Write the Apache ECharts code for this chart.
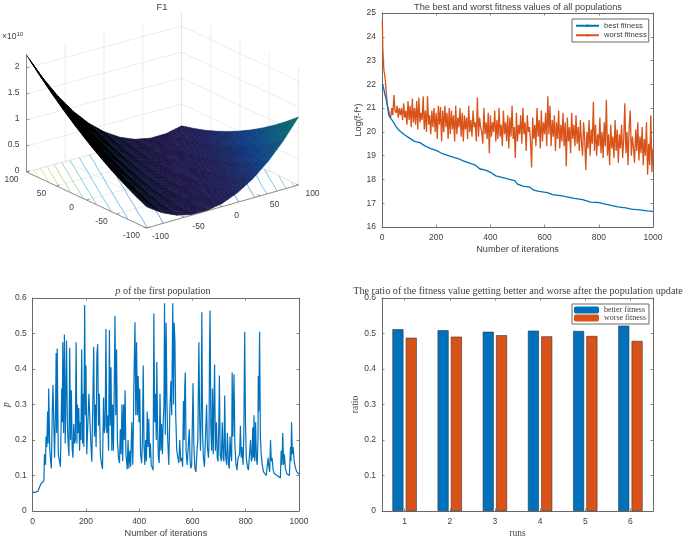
<!DOCTYPE html>
<html>
<head>
<meta charset="utf-8">
<title>F1</title>
<script src="https://cdn.jsdelivr.net/npm/echarts@6/dist/echarts.min.js"></script>
<style>
html, body { margin: 0; padding: 0; background: #fff; }
#main { width: 685px; height: 539px; }
</style>
</head>
<body>
<div id="main"></div>
<script>
// surface F1, z in 1e10, rows are y = -100..100, columns x = -100..100 (step 20)
const surfaceZ = [
  [0.409, 0.213, 0.080, 0.011, 0.005, 0.064, 0.185, 0.370, 0.619, 0.932, 1.308],
  [0.526, 0.299, 0.136, 0.036, 0.000, 0.028, 0.119, 0.273, 0.491, 0.773, 1.118],
  [0.659, 0.401, 0.207, 0.077, 0.010, 0.006, 0.067, 0.191, 0.378, 0.629, 0.944],
  [0.806, 0.517, 0.293, 0.131, 0.034, 0.000, 0.030, 0.123, 0.280, 0.500, 0.784],
  [0.967, 0.648, 0.393, 0.201, 0.073, 0.008, 0.007, 0.070, 0.196, 0.386, 0.639],
  [1.144, 0.794, 0.508, 0.286, 0.127, 0.032, 0.000, 0.032, 0.127, 0.286, 0.509],
  [1.335, 0.955, 0.638, 0.385, 0.196, 0.070, 0.007, 0.009, 0.073, 0.202, 0.394],
  [1.541, 1.130, 0.783, 0.499, 0.279, 0.123, 0.029, 0.000, 0.034, 0.132, 0.293],
  [1.762, 1.321, 0.943, 0.628, 0.377, 0.190, 0.066, 0.006, 0.010, 0.077, 0.207],
  [1.998, 1.526, 1.117, 0.772, 0.490, 0.272, 0.118, 0.027, 0.000, 0.037, 0.137],
  [2.249, 1.746, 1.306, 0.930, 0.618, 0.370, 0.185, 0.063, 0.005, 0.011, 0.080]
]
const contourLevels = [0.2, 0.4, 0.6, 0.8, 1.0, 1.2, 1.4, 1.6, 1.8, 2.0]
const xyTicks = [-100, -50, 0, 50, 100]
const zTicks = [0, 0.5, 1, 1.5, 2]
const zTop = 2.27

const bestIters = [1, 5, 10, 15, 20, 25, 30, 40, 50, 60, 80, 100, 120, 140, 160, 180, 200, 220, 250, 280, 300, 320, 345, 360, 385, 400, 420, 450, 470, 490, 500, 520, 545, 560, 580, 610, 630, 670, 690, 710, 740, 770, 800, 820, 850, 870, 900, 920, 950, 980, 1000]
const bestValues = [22.0, 21.9, 21.6, 21.4, 21.1, 20.7, 20.6, 20.45, 20.25, 20.1, 19.9, 19.75, 19.6, 19.55, 19.4, 19.3, 19.22, 19.1, 18.98, 18.88, 18.78, 18.7, 18.6, 18.45, 18.38, 18.3, 18.15, 18.07, 18.0, 17.95, 17.8, 17.72, 17.68, 17.55, 17.5, 17.45, 17.36, 17.3, 17.25, 17.2, 17.15, 17.05, 17.03, 16.97, 16.9, 16.85, 16.8, 16.75, 16.72, 16.68, 16.66]

const worstHeadIters = [1, 2, 3, 5, 7, 10, 13, 16, 20, 25, 28]
const worstHeadValues = [24.7, 24.3, 23.5, 23.0, 22.6, 22.4, 22.1, 21.6, 21.1, 20.9, 20.7]
// from iteration 32 on, one value every 4 iterations
const worstValues = [
  20.6, 21.0, 20.7, 21.55, 20.9, 20.8, 21.1, 20.6, 21.0, 20.7,
  21.0, 20.5, 21.2, 20.6, 20.9, 20.3, 21.3, 20.5, 21.1, 20.2,
  21.4, 20.4, 21.0, 20.3, 21.3, 20.1, 21.45, 20.4, 20.8, 20.5,
  21.5, 20.1, 20.9, 20.0, 21.5, 20.3, 20.7, 19.9, 20.9, 20.2,
  21.0, 20.0, 20.8, 19.7, 21.1, 20.3, 21.05, 19.6, 20.9, 20.0,
  21.1, 20.2, 20.8, 19.7, 21.0, 19.9, 20.9, 20.1, 20.7, 19.6,
  21.1, 19.9, 20.6, 20.2, 21.0, 19.8, 20.8, 19.6, 20.7, 20.1,
  20.6, 19.7, 21.1, 20.0, 20.5, 19.8, 20.9, 20.2, 20.4, 19.6,
  21.45, 19.8, 20.6, 20.2, 20.0, 19.5, 21.0, 19.9, 20.4, 19.7,
  20.8, 19.1, 20.7, 19.8, 20.4, 20.0, 20.9, 19.6, 20.5, 19.7,
  21.0, 19.8, 20.3, 19.4, 20.9, 19.9, 20.4, 19.6, 20.7, 19.3,
  20.6, 19.8, 21.1, 19.7, 20.2, 18.9, 20.8, 19.6, 20.3, 19.9,
  20.7, 19.5, 21.0, 19.9, 20.4, 19.2, 20.7, 20.0, 20.2, 19.6,
  18.5, 20.6, 19.7, 20.3, 19.4, 21.0, 19.8, 20.5, 19.3, 20.9,
  19.6, 20.4, 19.9, 20.8, 19.4, 21.5, 19.9, 21.1, 19.4, 20.5,
  19.8, 20.7, 19.2, 20.4, 19.7, 20.9, 19.3, 20.3, 19.6, 20.8,
  19.4, 20.4, 18.55, 20.6, 19.6, 20.2, 19.1, 20.8, 19.7, 20.3,
  19.4, 20.7, 19.5, 20.2, 19.2, 20.5, 19.6, 19.0, 20.4, 19.7,
  18.4, 20.0, 19.3, 20.5, 19.0, 20.1, 19.5, 21.27, 19.2, 20.3,
  19.0, 19.9, 19.4, 20.6, 19.1, 20.0, 18.9, 20.4, 19.4, 21.35,
  19.0, 19.9, 18.6, 20.3, 19.3, 19.8, 18.9, 20.5, 19.2, 20.1,
  18.7, 19.9, 19.3, 20.3, 18.9, 19.7, 21.2, 19.1, 20.0, 18.6,
  20.2, 20.9, 19.0, 19.8, 19.3, 18.7, 20.1, 19.2, 20.4, 18.8,
  19.8, 19.1, 20.2, 18.6, 19.7, 19.0, 20.4, 18.2, 19.5, 18.6,
  20.7, 18.3, 19.3
]

const pIters = [0, 10, 20, 25, 32, 42, 44, 48, 50, 53, 56, 58, 60, 64, 70, 74, 76, 82, 86, 88, 90, 92, 96, 104, 109, 111, 113, 116, 119, 122, 124, 127, 130, 133, 136, 139, 142, 145, 148, 151, 154, 157, 160, 163, 166, 168, 171, 173, 176, 179, 181, 184, 187, 189, 192, 195, 198, 200, 203, 208, 211, 215, 219, 222, 226, 229, 232, 235, 238, 241, 244, 247, 250, 254, 258, 262, 266, 269, 272, 275, 278, 281, 285, 288, 291, 294, 297, 300, 303, 306, 309, 312, 315, 318, 322, 326, 329, 332, 335, 338, 341, 344, 347, 350, 355, 358, 361, 365, 368, 372, 376, 380, 384, 387, 390, 393, 396, 399, 402, 405, 409, 412, 415, 418, 421, 424, 427, 430, 433, 436, 439, 442, 445, 448, 452, 455, 458, 461, 464, 466, 469, 472, 475, 478, 481, 484, 487, 490, 493, 495, 498, 501, 504, 507, 511, 515, 519, 522, 526, 529, 531, 534, 537, 541, 545, 549, 552, 556, 560, 563, 566, 569, 571, 573, 576, 580, 585, 588, 591, 594, 597, 602, 605, 609, 613, 617, 620, 622, 624, 627, 630, 633, 635, 638, 641, 645, 648, 653, 656, 660, 662, 664, 666, 669, 672, 675, 678, 680, 683, 686, 690, 693, 696, 699, 701, 704, 708, 712, 715, 718, 721, 724, 728, 731, 735, 738, 741, 744, 747, 749, 752, 754, 756, 759, 763, 767, 771, 774, 777, 780, 783, 786, 790, 793, 796, 799, 802, 806, 810, 814, 818, 821, 824, 826, 829, 831, 834, 837, 840, 843, 846, 847, 849, 852, 855, 858, 862, 867, 872, 877, 881, 884, 886, 890, 893, 896, 899, 903, 908, 913, 918, 924, 930, 933, 936, 939, 942, 945, 949, 954, 959, 964, 968, 970, 972, 975, 978, 982, 987, 992, 1000]
const pValues = [0.052, 0.053, 0.056, 0.066, 0.078, 0.085, 0.16, 0.13, 0.21, 0.18, 0.28, 0.19, 0.345, 0.17, 0.12, 0.30, 0.355, 0.15, 0.30, 0.445, 0.22, 0.458, 0.16, 0.125, 0.345, 0.25, 0.475, 0.22, 0.497, 0.19, 0.30, 0.48, 0.25, 0.19, 0.155, 0.46, 0.20, 0.34, 0.18, 0.15, 0.245, 0.19, 0.20, 0.475, 0.19, 0.30, 0.22, 0.29, 0.17, 0.25, 0.20, 0.455, 0.19, 0.33, 0.18, 0.58, 0.27, 0.41, 0.16, 0.16, 0.33, 0.25, 0.18, 0.139, 0.32, 0.463, 0.21, 0.30, 0.18, 0.44, 0.47, 0.24, 0.33, 0.16, 0.135, 0.118, 0.32, 0.22, 0.24, 0.513, 0.22, 0.27, 0.17, 0.51, 0.24, 0.405, 0.17, 0.30, 0.17, 0.34, 0.549, 0.27, 0.455, 0.20, 0.15, 0.135, 0.23, 0.16, 0.30, 0.14, 0.30, 0.20, 0.34, 0.16, 0.118, 0.20, 0.12, 0.17, 0.125, 0.25, 0.13, 0.36, 0.532, 0.27, 0.475, 0.27, 0.38, 0.25, 0.345, 0.16, 0.135, 0.20, 0.41, 0.18, 0.13, 0.20, 0.14, 0.28, 0.18, 0.26, 0.15, 0.19, 0.13, 0.13, 0.115, 0.556, 0.25, 0.33, 0.20, 0.42, 0.23, 0.15, 0.135, 0.33, 0.17, 0.245, 0.16, 0.25, 0.30, 0.585, 0.215, 0.53, 0.31, 0.20, 0.13, 0.28, 0.366, 0.27, 0.585, 0.30, 0.53, 0.48, 0.27, 0.17, 0.15, 0.135, 0.20, 0.14, 0.15, 0.125, 0.31, 0.20, 0.35, 0.39, 0.17, 0.13, 0.125, 0.23, 0.14, 0.12, 0.13, 0.36, 0.19, 0.12, 0.11, 0.17, 0.20, 0.33, 0.475, 0.26, 0.17, 0.30, 0.56, 0.22, 0.15, 0.125, 0.12, 0.30, 0.18, 0.15, 0.19, 0.45, 0.565, 0.24, 0.17, 0.345, 0.16, 0.27, 0.413, 0.17, 0.25, 0.15, 0.14, 0.25, 0.382, 0.16, 0.14, 0.25, 0.15, 0.14, 0.325, 0.16, 0.13, 0.22, 0.13, 0.12, 0.21, 0.16, 0.14, 0.39, 0.21, 0.30, 0.385, 0.19, 0.135, 0.115, 0.15, 0.145, 0.16, 0.24, 0.15, 0.18, 0.13, 0.22, 0.505, 0.25, 0.15, 0.125, 0.115, 0.11, 0.20, 0.14, 0.15, 0.235, 0.15, 0.27, 0.14, 0.25, 0.15, 0.13, 0.20, 0.38, 0.28, 0.505, 0.21, 0.16, 0.13, 0.11, 0.105, 0.10, 0.098, 0.15, 0.13, 0.11, 0.20, 0.14, 0.15, 0.115, 0.105, 0.11, 0.10, 0.095, 0.093, 0.17, 0.13, 0.22, 0.13, 0.16, 0.12, 0.105, 0.10, 0.10, 0.18, 0.14, 0.25, 0.16, 0.18, 0.14, 0.12, 0.11, 0.103]

const runs = ['1', '2', '3', '4', '5', '6']
const betterFitness = [0.512, 0.509, 0.505, 0.508, 0.507, 0.522]
const worseFitness = [0.488, 0.491, 0.495, 0.492, 0.493, 0.479]

const textColor = '#404040'
const axisColor = '#6a6a6a'
const sans = 'Liberation Sans'
const serif = 'Liberation Serif'

// ----- 3d panel -----
const cornerL = [26.5, 172]
const cornerF = [146.5, 228]
const cornerR = [298.5, 185]
const cornerB = [181.5, 130]
const zPixels = 52

function project(x, y, z) {
  let u = (x + 100) / 200
  let v = (y + 100) / 200
  let px = (1 - u) * (1 - v) * cornerF[0] + u * (1 - v) * cornerR[0] + (1 - u) * v * cornerL[0] + u * v * cornerB[0]
  let py = (1 - u) * (1 - v) * cornerF[1] + u * (1 - v) * cornerR[1] + (1 - u) * v * cornerL[1] + u * v * cornerB[1]
  return [px, py - z * zPixels]
}

// height at a fractional table position
function sampleZ(i, j) {
  let i0 = Math.min(Math.floor(i), 9)
  let j0 = Math.min(Math.floor(j), 9)
  let a = i - i0
  let b = j - j0
  return (1 - a) * (1 - b) * surfaceZ[j0][i0] + a * (1 - b) * surfaceZ[j0][i0 + 1] +
    (1 - a) * b * surfaceZ[j0 + 1][i0] + a * b * surfaceZ[j0 + 1][i0 + 1]
}

const parula = [
  [53, 42, 135], [20, 95, 215], [16, 142, 210], [5, 170, 190], [50, 184, 160],
  [115, 191, 115], [204, 186, 64], [252, 190, 56], [249, 251, 14]
]

function parulaRgb(t) {
  t = Math.max(0, Math.min(1, t)) * (parula.length - 1)
  let k = Math.min(Math.floor(t), parula.length - 2)
  let f = t - k
  return [0, 1, 2].map((n) => parula[k][n] * (1 - f) + parula[k + 1][n] * f)
}

function dist(a, b) {
  return Math.hypot(a[0] - b[0], a[1] - b[1])
}

function lineEl(p, q, color, width) {
  return {
    type: 'line',
    shape: { x1: p[0], y1: p[1], x2: q[0], y2: q[1] },
    style: { stroke: color, lineWidth: width }
  }
}

function textEl(text, x, y, align, size) {
  return {
    type: 'text',
    style: { text: text, x: x, y: y, align: align, verticalAlign: 'middle', fontFamily: sans, fontSize: size || 8.5, fill: textColor }
  }
}

function buildFrame() {
  let out = []
  let grid = '#e4e4e4'
  xyTicks.forEach((t) => {
    out.push(lineEl(project(t, -100, 0), project(t, 100, 0), grid, 0.7))
    out.push(lineEl(project(-100, t, 0), project(100, t, 0), grid, 0.7))
    out.push(lineEl(project(t, 100, 0), project(t, 100, zTop), grid, 0.7))
    out.push(lineEl(project(100, t, 0), project(100, t, zTop), grid, 0.7))
  })
  zTicks.forEach((z) => {
    out.push(lineEl(project(-100, 100, z), project(100, 100, z), grid, 0.7))
    out.push(lineEl(project(100, 100, z), project(100, -100, z), grid, 0.7))
  })
  return out
}

function buildContours() {
  let out = []
  contourLevels.forEach((level) => {
    // thin lines read lighter than the colormap in the picture
    let rgb = parulaRgb(level / 2.1).map((v) => Math.round(v + (255 - v) * 0.3))
    let color = 'rgb(' + rgb.join(',') + ')'
    for (let j = 0; j < 10; j++) {
      for (let i = 0; i < 10; i++) {
        let c = [[i, j], [i + 1, j], [i + 1, j + 1], [i, j + 1]]
        let hits = []
        for (let e = 0; e < 4; e++) {
          let a = c[e]
          let b = c[(e + 1) % 4]
          let za = surfaceZ[a[1]][a[0]]
          let zb = surfaceZ[b[1]][b[0]]
          if ((za < level) !== (zb < level)) {
            let f = (level - za) / (zb - za)
            hits.push([-100 + 20 * (a[0] + f * (b[0] - a[0])), -100 + 20 * (a[1] + f * (b[1] - a[1]))])
          }
        }
        if (hits.length >= 2) {
          out.push(lineEl(project(hits[0][0], hits[0][1], 0), project(hits[1][0], hits[1][1], 0), color, 0.8))
        }
      }
    }
  })
  return out
}

function buildSurface() {
  let out = []
  let sub = 5
  let n = 10 * sub
  // far corner first, the near cells paint over it
  for (let j = n - 1; j >= 0; j--) {
    for (let i = n - 1; i >= 0; i--) {
      let corners = [[i, j], [i + 1, j], [i + 1, j + 1], [i, j + 1]].map((c) => {
        let a = c[0] / sub
        let b = c[1] / sub
        return project(-100 + 20 * a, -100 + 20 * b, sampleZ(a, b))
      })
      let area = 0.5 * Math.abs(
        (corners[2][0] - corners[0][0]) * (corners[3][1] - corners[1][1]) -
        (corners[3][0] - corners[1][0]) * (corners[2][1] - corners[0][1])
      )
      let edges = dist(corners[0], corners[1]) + dist(corners[0], corners[3])
      // the black mesh lines of the fine grid eat the fill where a cell looks narrow
      let shade = Math.max(0, 1 - 0.44 * edges / Math.max(area, 0.01))
      let z = sampleZ((i + 0.5) / sub, (j + 0.5) / sub)
      let rgb = parulaRgb(Math.pow(z / zTop, 1.4)).map((v) => Math.round(v * shade))
      let color = 'rgb(' + rgb.join(',') + ')'
      out.push({
        type: 'polygon',
        shape: { points: corners },
        style: { fill: color, stroke: color, lineWidth: 0.5 }
      })
    }
  }
  return out
}

function buildAxes3d() {
  let out = []
  let dark = '#777'
  out.push(lineEl(cornerL, cornerF, dark, 0.8))
  out.push(lineEl(cornerF, cornerR, dark, 0.8))
  out.push(lineEl(cornerL, project(-100, 100, zTop), dark, 0.8))
  zTicks.forEach((z) => {
    let p = project(-100, 100, z)
    out.push(lineEl(p, [p[0] + 3, p[1] - 0.8], dark, 0.7))
    out.push(textEl(String(z), p[0] - 7, p[1] - 1, 'right'))
  })
  xyTicks.forEach((t) => {
    let a = project(-100, t, 0)
    out.push(lineEl(a, [a[0] + 3, a[1] - 1], dark, 0.7))
    out.push(textEl(String(t), a[0] - 15, a[1] + 8, 'center'))
    let b = project(t, -100, 0)
    out.push(lineEl(b, [b[0] - 3, b[1] - 1], dark, 0.7))
    out.push(textEl(String(t), b[0] + 14, b[1] + 9, 'center'))
  })
  out.push(textEl('F1', 162, 7, 'center', 9.5))
  out.push({
    type: 'text',
    style: {
      text: '×10{e|10}', x: 2, y: 37, align: 'left', verticalAlign: 'middle',
      fontFamily: sans, fontSize: 8.5, fill: textColor,
      rich: { e: { fontFamily: sans, fontSize: 6, fill: textColor, verticalAlign: 'top', padding: [0, 0, 5, 0] } }
    }
  })
  return out
}

const groups3d = [buildFrame(), buildContours(), buildSurface(), buildAxes3d()]

// ----- 2d panels -----
const worstIters = worstHeadIters.slice()
worstValues.forEach((v, k) => worstIters.push(32 + 4 * k))
const worstAll = worstHeadValues.concat(worstValues)

const xAxes = []
const yAxes = []

function addAxes(gridIndex, xCfg, yCfg) {
  let common = {
    gridIndex: gridIndex,
    axisLine: { show: true, onZero: false, lineStyle: { color: axisColor, width: 1 } },
    axisTick: { show: true, inside: true, length: 2.5, alignWithLabel: true, lineStyle: { color: axisColor, width: 0.8 } },
    splitLine: { show: false }
  }
  let label = {
    show: true, color: textColor, fontFamily: sans, fontSize: 8.5, margin: 6, hideOverlap: false,
    formatter: (v) => String(v)
  }
  let xLabel = Object.assign({}, label, { showMinLabel: true, showMaxLabel: true })
  xAxes.push(Object.assign({}, common, xCfg, { position: 'bottom', axisLabel: xLabel }))
  xAxes.push(Object.assign({}, common, xCfg, { position: 'top', name: '', axisLabel: { show: false } }))
  yAxes.push(Object.assign({}, common, yCfg, { position: 'left', axisLabel: label }))
  yAxes.push(Object.assign({}, common, yCfg, { position: 'right', name: '', axisLabel: { show: false } }))
}

function axisName(name, gap, font, style) {
  return {
    name: name,
    nameLocation: 'middle',
    nameGap: gap,
    nameTextStyle: { color: textColor, fontFamily: font, fontSize: font === serif ? 9.5 : 9.2, fontStyle: style || 'normal' }
  }
}

const iterAxis = { type: 'value', min: 0, max: 1000, interval: 200 }

addAxes(0,
  Object.assign({}, iterAxis, axisName('Number of iterations', 18, sans)),
  Object.assign({ type: 'value', min: 16, max: 25, interval: 1 }, axisName('Log(f-f*)', 11, sans)))
addAxes(1,
  Object.assign({}, iterAxis, axisName('Number of iterations', 18, sans)),
  Object.assign({ type: 'value', min: 0, max: 0.6, interval: 0.1 }, axisName('p', 16, serif, 'italic')))
addAxes(2,
  Object.assign({ type: 'category', data: runs, boundaryGap: true }, axisName('runs', 17, serif)),
  Object.assign({ type: 'value', min: 0, max: 0.6, interval: 0.1 }, axisName('ratio', 13, serif)))

const option = {
  animation: false,
  backgroundColor: '#fff',
  grid: [
    { left: 382, width: 271, top: 13, height: 214, show: false },
    { left: 27, width: 272, top: 298, height: 214, show: false },
    { left: 382, width: 271, top: 298, height: 214, show: false }
  ],
  title: [
    {
      text: 'The best and worst fitness values of all populations',
      left: 518, top: 7, textAlign: 'center', textVerticalAlign: 'middle', padding: 0,
      textStyle: { color: textColor, fontFamily: sans, fontSize: 9.2, fontWeight: 'normal' }
    },
    {
      text: '{i|p} of the first population',
      left: 163, top: 291, textAlign: 'center', textVerticalAlign: 'middle', padding: 0,
      textStyle: {
        color: textColor, fontFamily: serif, fontSize: 10.1, fontWeight: 'normal',
        rich: { i: { fontFamily: serif, fontStyle: 'italic', fontSize: 10.1, color: textColor } }
      }
    },
    {
      text: 'The ratio of the fitness value getting better and worse after the population update',
      left: 518, top: 291, textAlign: 'center', textVerticalAlign: 'middle', padding: 0,
      textStyle: { color: textColor, fontFamily: serif, fontSize: 10.2, fontWeight: 'normal' }
    }
  ],
  legend: [
    {
      data: ['best fitness', 'worst fitness'],
      left: 572, top: 19, orient: 'vertical', itemWidth: 23, itemHeight: 3, itemGap: 0,
      padding: [2, 2, 2, 3], borderColor: axisColor, borderWidth: 1, backgroundColor: '#fff',
      textStyle: { color: textColor, fontFamily: sans, fontSize: 7.7, lineHeight: 9.5 }
    },
    {
      data: ['better fitness', 'worse fitness'],
      left: 572, top: 304, orient: 'vertical', itemWidth: 25, itemHeight: 7, itemGap: 0,
      padding: [2, 3, 2, 2], borderColor: axisColor, borderWidth: 1, backgroundColor: '#fff',
      itemStyle: { borderWidth: 0 },
      textStyle: { color: textColor, fontFamily: serif, fontSize: 8 }
    }
  ],
  xAxis: xAxes,
  yAxis: yAxes,
  series: [
    {
      type: 'custom',
      coordinateSystem: 'none',
      silent: true,
      data: [0],
      renderItem: function () {
        return { type: 'group', children: groups3d[0].concat(groups3d[1], groups3d[2], groups3d[3]) }
      }
    },
    {
      name: 'best fitness',
      type: 'line',
      xAxisIndex: 0,
      yAxisIndex: 0,
      symbol: 'none',
      z: 3,
      lineStyle: { color: '#0072BD', width: 1.3 },
      itemStyle: { color: '#0072BD' },
      data: bestIters.map((x, k) => [x, bestValues[k]])
    },
    {
      name: 'worst fitness',
      type: 'line',
      xAxisIndex: 0,
      yAxisIndex: 0,
      symbol: 'none',
      z: 2,
      lineStyle: { color: '#D95319', width: 1.3 },
      itemStyle: { color: '#D95319' },
      data: worstIters.map((x, k) => [x, worstAll[k]])
    },
    {
      name: 'p',
      type: 'line',
      xAxisIndex: 2,
      yAxisIndex: 2,
      symbol: 'none',
      lineStyle: { color: '#0072BD', width: 1.2 },
      data: pIters.map((x, k) => [x, pValues[k]])
    },
    {
      name: 'better fitness',
      type: 'bar',
      xAxisIndex: 4,
      yAxisIndex: 4,
      barWidth: 11,
      barGap: '21%',
      itemStyle: { color: '#0072BD', borderColor: '#333', borderWidth: 0.6 },
      data: betterFitness
    },
    {
      name: 'worse fitness',
      type: 'bar',
      xAxisIndex: 4,
      yAxisIndex: 4,
      barWidth: 11,
      itemStyle: { color: '#D95319', borderColor: '#333', borderWidth: 0.6 },
      data: worseFitness
    }
  ]
}

var myChart = echarts.init(document.getElementById('main'), null, { renderer: 'canvas' })
myChart.setOption(option)
</script>
</body>
</html>
